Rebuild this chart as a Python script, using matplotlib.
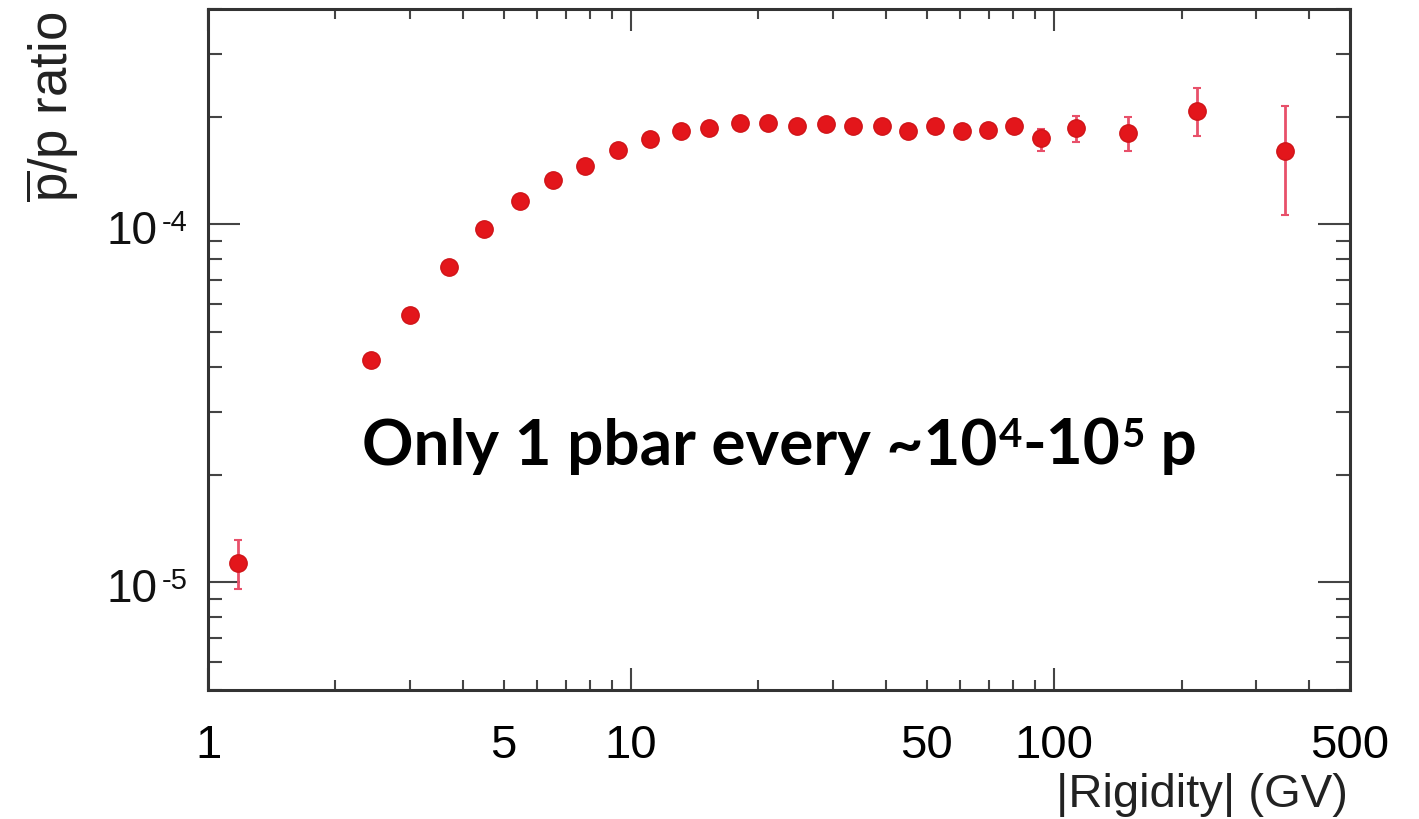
import matplotlib
matplotlib.use('Agg')
import matplotlib.pyplot as plt
from matplotlib.ticker import FixedLocator, FuncFormatter, LogLocator, NullFormatter
import numpy as np

plt.rcParams['font.family'] = ['Liberation Sans', 'DejaVu Sans']
plt.rcParams['mathtext.fontset'] = 'custom'
plt.rcParams['mathtext.rm'] = 'Liberation Sans'

### pbar/p ratio vs |rigidity|
rigidity = [1.18, 2.43, 3.0, 3.71, 4.48, 5.45, 6.55, 7.79, 9.32, 11.1, 13.1,
            15.3, 18.1, 21.1, 24.7, 28.9, 33.5, 39.2, 45.1, 52.2, 60.4, 69.6,
            80.5, 93.2, 112.7, 149.3, 217., 351.6]
ratio = [1.13e-5, 4.18e-5, 5.58e-5, 7.59e-5, 9.7e-5, 1.16e-4, 1.33e-4, 1.46e-4,
         1.61e-4, 1.73e-4, 1.82e-4, 1.86e-4, 1.92e-4, 1.92e-4, 1.89e-4, 1.91e-4,
         1.88e-4, 1.89e-4, 1.83e-4, 1.88e-4, 1.83e-4, 1.84e-4, 1.88e-4, 1.74e-4,
         1.86e-4, 1.80e-4, 2.08e-4, 1.60e-4]
err_lo = [1.7e-6, 0, 0, 0, 0, 0, 0, 0, 0, 0, 0, 0, 0, 0, 0, 0, 0, 0, 0, 0, 0, 0,
          4e-6, 1.4e-5, 1.6e-5, 2.0e-5, 3.1e-5, 5.4e-5]
err_hi = [1.8e-6, 0, 0, 0, 0, 0, 0, 0, 0, 0, 0, 0, 0, 0, 0, 0, 0, 0, 0, 0, 0, 0,
          4e-6, 1.1e-5, 1.5e-5, 2.0e-5, 3.3e-5, 5.4e-5]

xlabels_shown = [1, 5, 10, 50, 100, 500]
ylabels_shown = [1e-5, 1e-4]
# annotation pieces: (text, is_superscript)
note_parts = [('Only 1 pbar every ~10', False), ('4', True), ('-10', False), ('5', True), (' p', False)]

fig = plt.figure(figsize=(14.19, 8.2), dpi=100)
ax = fig.add_axes([208/1419., 1-691/820., (1350-208)/1419., (691-10)/820.])
ax.set_xscale('log'); ax.set_yscale('log')

ax.errorbar(rigidity, ratio, yerr=[err_lo, err_hi], fmt='none', ecolor='#e8506a',
            elinewidth=2, capsize=3, capthick=1.5, zorder=2)
ax.plot(rigidity, ratio, 'o', color='#e3161b', ms=12.5, mec='#d01418', mew=1, zorder=3)

ax.set_xlim(1, 500)
ax.set_ylim(5e-6, 4e-4)

# x ticks
ax.xaxis.set_major_locator(FixedLocator([1, 10, 100]))
minors = [m*d for d in (1, 10, 100) for m in range(2, 10) if m*d <= 500]
ax.xaxis.set_minor_locator(FixedLocator(minors))
fmt = FuncFormatter(lambda v, p: '%d' % round(v) if round(v) in xlabels_shown else '')
ax.xaxis.set_major_formatter(fmt)
ax.xaxis.set_minor_formatter(fmt)
# y ticks (labels drawn by hand below, to get a short hyphen in the exponent)
ax.yaxis.set_major_locator(LogLocator(base=10, numticks=10))
ax.yaxis.set_minor_locator(LogLocator(base=10, subs=np.arange(2, 10), numticks=20))
ax.yaxis.set_major_formatter(NullFormatter())
ax.yaxis.set_minor_formatter(NullFormatter())
for v in ylabels_shown:
  ax.annotate('10', xy=(0, v), xycoords=('axes fraction', 'data'), xytext=(-36.5, -5),
              textcoords='offset points', ha='right', va='center', fontsize=33, color='#111111')
  ax.annotate('%d' % round(np.log10(v)), xy=(0, v), xycoords=('axes fraction', 'data'),
              xytext=(-14.5, 1.5), textcoords='offset points', ha='right', va='center',
              fontsize=21, color='#111111')

for s in ax.spines.values():
  s.set_linewidth(2.2); s.set_color('#333333')
ax.tick_params(axis='x', which='major', direction='in', length=16, width=1.5, color='#444444',
               top=True, labelsize=34, pad=24)
ax.tick_params(axis='x', which='minor', direction='in', length=7, width=1.5, color='#444444',
               top=True, labelsize=34, pad=24)
ax.tick_params(axis='y', which='major', direction='in', length=23, width=1.5, color='#444444',
               right=True)
ax.tick_params(axis='y', which='minor', direction='in', length=10, width=1.5, color='#444444',
               right=True)

fig.text(52/1419., 1-12/820., r'$\overline{\mathrm{p}}$/p ratio', rotation=90,
         ha='center', va='top', fontsize=38, color='#222222')
fig.text(1348/1419., 1-795/820., '|Rigidity| (GV)', ha='right', va='center',
         fontsize=34, color='#222222')

## annotation, drawn piece by piece so the exponents sit at cap height
base_y = 1-465/820.
prev = None
for txt, sup in note_parts:
  kw = dict(fontfamily=['Lato', 'DejaVu Sans'], fontweight='bold', color='black',
            ha='left', va='baseline', annotation_clip=False)
  if prev is None:
    prev = fig.text(362/1419., base_y, txt, fontsize=46, **{k: kw[k] for k in kw if k != 'annotation_clip'})
    prev.set_family(['Lato', 'DejaVu Sans'])
    continue
  prev = ax.annotate(txt, xy=(1, base_y), xycoords=(prev, 'figure fraction'),
                     xytext=(1 if sup else 0, 13 if sup else 0), textcoords='offset points',
                     fontsize=29 if sup else 46, **kw)

fig.savefig('out.png', dpi=100)
